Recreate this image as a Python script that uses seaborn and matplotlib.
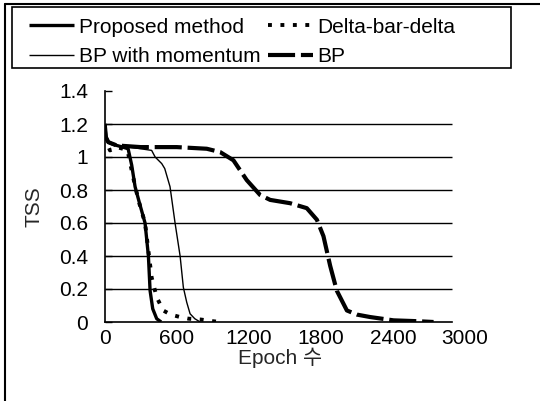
import matplotlib
matplotlib.use("Agg")
import matplotlib.pyplot as plt
from matplotlib.patches import Rectangle
from matplotlib.lines import Line2D
import seaborn as sns
import pandas as pd

# ---- data ----
prop_x = [0, 10, 30, 60, 100, 150, 195, 225, 253, 290, 336, 364, 378, 400, 433, 470]
prop_y = [1.20, 1.12, 1.09, 1.08, 1.07, 1.06, 1.05, 0.95, 0.82, 0.72, 0.60, 0.40, 0.19, 0.08, 0.02, 0.0]

mom_x = [0, 10, 30, 100, 200, 300, 391, 420, 475, 500, 544, 586, 628, 655, 683, 711, 750, 795]
mom_y = [1.20, 1.12, 1.09, 1.07, 1.06, 1.05, 1.04, 1.00, 0.96, 0.93, 0.82, 0.60, 0.40, 0.21, 0.12, 0.05, 0.02, 0.0]

dbd_x = [0, 10, 44, 100, 150, 190, 236, 280, 336, 391, 433, 487, 550, 628, 700, 800, 900, 962]
dbd_y = [1.20, 1.10, 1.04, 1.06, 1.05, 1.04, 0.88, 0.74, 0.60, 0.27, 0.15, 0.07, 0.045, 0.03, 0.02, 0.015, 0.005, 0.0]

bp_x = [0, 10, 30, 100, 300, 600, 850, 961, 1072, 1183, 1294, 1378, 1544, 1683, 1767, 1822,
        1878, 1933, 2017, 2100, 2211, 2406, 2600, 2739]
bp_y = [1.20, 1.12, 1.09, 1.07, 1.06, 1.06, 1.05, 1.03, 0.98, 0.86, 0.77, 0.74, 0.72, 0.69, 0.62, 0.52,
        0.34, 0.19, 0.07, 0.045, 0.03, 0.01, 0.005, 0.0]

series_names = ["Proposed method", "BP with momentum", "Delta-bar-delta", "BP"]
x_ticks = [0, 600, 1200, 1800, 2400, 3000]
x_minor = [300, 600, 900, 1200, 1500, 1800, 2100, 2400, 2700]
y_ticks = [0, 0.2, 0.4, 0.6, 0.8, 1.0, 1.2, 1.4]
y_labels = ["0", "0.2", "0.4", "0.6", "0.8", "1", "1.2", "1.4"]
x_label = "Epoch 수"
y_label = "TSS"
axis_end = 2890

sns.set_theme(style="white")
plt.rcParams["font.family"] = ["Liberation Sans", "Noto Sans CJK KR", "DejaVu Sans"]
plt.rcParams["text.color"] = "black"
plt.rcParams["xtick.color"] = "black"
plt.rcParams["ytick.color"] = "black"

W, H = 540, 401
fig = plt.figure(figsize=(W / 100, H / 100), dpi=100)
fig.patch.set_facecolor("white")
ax_w_frac = (451.7 - 104.7) / W * 3000 / axis_end
ax = fig.add_axes([104.7 / W, 1 - 322 / H, ax_w_frac, 231 / H])

frames = [
    pd.DataFrame({"x": prop_x, "y": prop_y}),
    pd.DataFrame({"x": mom_x, "y": mom_y}),
    pd.DataFrame({"x": dbd_x, "y": dbd_y}),
    pd.DataFrame({"x": bp_x, "y": bp_y}),
]
styles = [
    dict(lw=2.4, ls="-"),
    dict(lw=1.0, ls="-"),
    dict(lw=2.8, ls=(0, (1.0, 2.2))),
    dict(lw=3.0, ls=(0, (6.5, 1.4))),
]
order = [3, 1, 2, 0]
for i in order:
    sns.lineplot(data=frames[i], x="x", y="y", ax=ax, color="black",
                 estimator=None, sort=False, label=series_names[i],
                 linewidth=styles[i]["lw"], linestyle=styles[i]["ls"],
                 dash_capstyle="butt", solid_capstyle="butt")

ax.set_xlim(0, 3000)
ax.set_ylim(0, 1.4)
for s in ["top", "right"]:
    ax.spines[s].set_visible(False)
for s in ["left", "bottom"]:
    ax.spines[s].set_color("black")
    ax.spines[s].set_linewidth(1.2)
ax.spines["bottom"].set_bounds(0, axis_end)

for yv in y_ticks[1:-1]:
    ax.hlines(yv, 0, axis_end, color="black", lw=1.0, zorder=0.5)

ax.set_xticks(x_ticks)
ax.set_xticklabels([str(v) for v in x_ticks])
ax.set_xticks(x_minor, minor=True)
ax.tick_params(axis="x", which="major", length=0, pad=5, labelsize=15)
ax.tick_params(axis="x", which="minor", direction="in", length=5, width=1.0)
ax.set_yticks(y_ticks)
ax.set_yticklabels(y_labels)
ax.tick_params(axis="y", which="major", direction="in", length=5, width=1.0, pad=12, labelsize=15, left=True)
ax.grid(False)

ax.set_xlabel(x_label, fontsize=15)
ax.set_ylabel(y_label, fontsize=15)
ax.xaxis.set_label_coords((280 - 104.7) / ((451.7 - 104.7) * 3000 / axis_end), -0.112)
ax.yaxis.set_label_coords(-0.17, 0.5)

h, l = ax.get_legend_handles_labels()
lookup = dict(zip(l, h))
ordered = [lookup[n] for n in series_names]
leg = fig.legend(ordered, series_names, ncol=2, loc="upper left",
                 bbox_to_anchor=(14 / W, 1 - 3 / H), frameon=False, fontsize=15,
                 handlelength=2.2, handletextpad=0.2, columnspacing=0.35,
                 labelspacing=0.5, borderpad=0.2)
ax.get_legend().remove()

fig.patches.append(Rectangle((12 / W, 1 - 68 / H), (511 - 12) / W, (68 - 7) / H,
                             transform=fig.transFigure, fill=False, ec="black", lw=1.2))
fig.lines.append(Line2D([5 / W, 5 / W], [0, 1 - 4 / H], transform=fig.transFigure, color="black", lw=1.5))
fig.lines.append(Line2D([5 / W, 1], [1 - 4 / H, 1 - 4 / H], transform=fig.transFigure, color="black", lw=1.5))

fig.savefig("out.png", dpi=100, facecolor="white")
